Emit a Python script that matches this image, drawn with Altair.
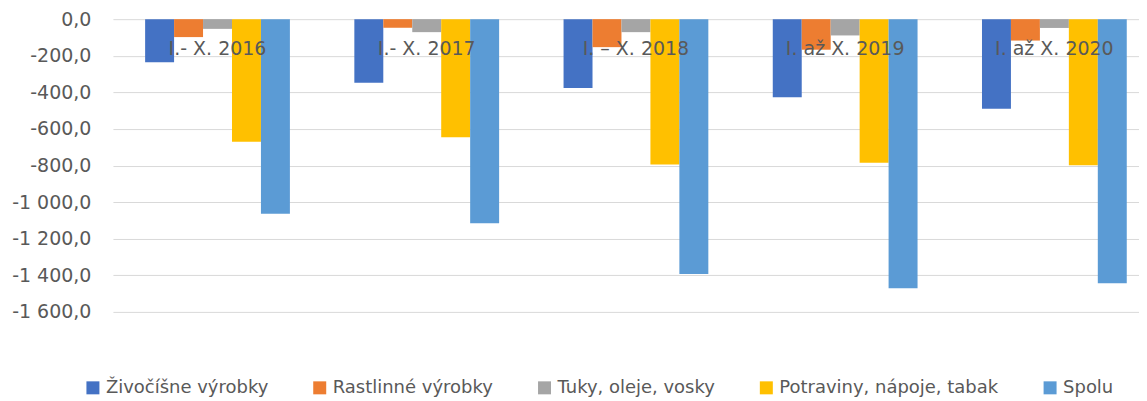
import altair as alt
import pandas as pd

categories = ["I.- X. 2016", "I.- X. 2017", "I. – X. 2018", "I. až X. 2019", "I. až X. 2020"]
series = ["Živočíšne výrobky", "Rastlinné výrobky", "Tuky, oleje, vosky",
          "Potraviny, nápoje, tabak", "Spolu"]
colors = ["#4472C4", "#ED7D31", "#A5A5A5", "#FFC000", "#5B9BD5"]

zivocisne = [-236, -347, -376, -427, -489]
rastlinne = [-98, -47, -153, -167, -117]
tuky = [-53, -71, -71, -89, -48]
potraviny = [-670, -645, -794, -785, -798]
spolu = [-1063, -1116, -1393, -1471, -1444]
y_ticks = [0, -200, -400, -600, -800, -1000, -1200, -1400, -1600]

values = [zivocisne, rastlinne, tuky, potraviny, spolu]
rows = []
for s, vals in zip(series, values):
    for c, v in zip(categories, vals):
        rows.append({"obdobie": c, "skupina": s, "hodnota": v})
df = pd.DataFrame(rows)
cat_df = pd.DataFrame({"obdobie": categories})

FONT = "DejaVu Sans"
TXT = "#595959"

xscale = alt.Scale(domain=categories, range=[0, 1047], paddingInner=0.308, paddingOuter=0.154)

bars = alt.Chart(df).mark_bar().encode(
    x=alt.X("obdobie:N", sort=categories, scale=xscale, axis=None),
    xOffset=alt.XOffset("skupina:N", sort=series, scale=alt.Scale(domain=series, paddingInner=0, paddingOuter=0)),
    y=alt.Y("hodnota:Q", scale=alt.Scale(domain=[-1600, 0], nice=False),
            axis=alt.Axis(title=None, values=y_ticks, format=",.1f",
                          ticks=False, domain=False, labelPadding=22, labelFontSize=19,
                          labelFont=FONT, labelColor=TXT, gridColor="#D9D9D9", gridWidth=1)),
    color=alt.Color("skupina:N", sort=series,
                    scale=alt.Scale(domain=series, range=colors),
                    legend=alt.Legend(title=None, orient="none", direction="horizontal",
                                      legendX=-29, legendY=360, symbolType="square",
                                      symbolSize=169, symbolStrokeWidth=0, labelFont=FONT,
                                      labelFontSize=18, labelColor=TXT, columnPadding=42,
                                      labelOffset=4, labelLimit=400, columns=5)),
)

labels = alt.Chart(cat_df).mark_text(font=FONT, fontSize=19, color=TXT, baseline="middle").encode(
    x=alt.X("obdobie:N", sort=categories, scale=xscale, axis=None),
    y=alt.value(30),
    text="obdobie:N",
)

chart = alt.layer(bars, labels).properties(
    width=1027, height=293,
    padding={"left": 3, "top": 2, "right": 0, "bottom": 0},
).configure(
    locale={"number": {"decimal": ",", "thousands": "\u00a0", "grouping": [3],
                       "currency": ["", " €"], "minus": "-"}}
).configure_view(stroke=None)

chart.save("out.html", embed_options={"renderer": "svg", "actions": False})
